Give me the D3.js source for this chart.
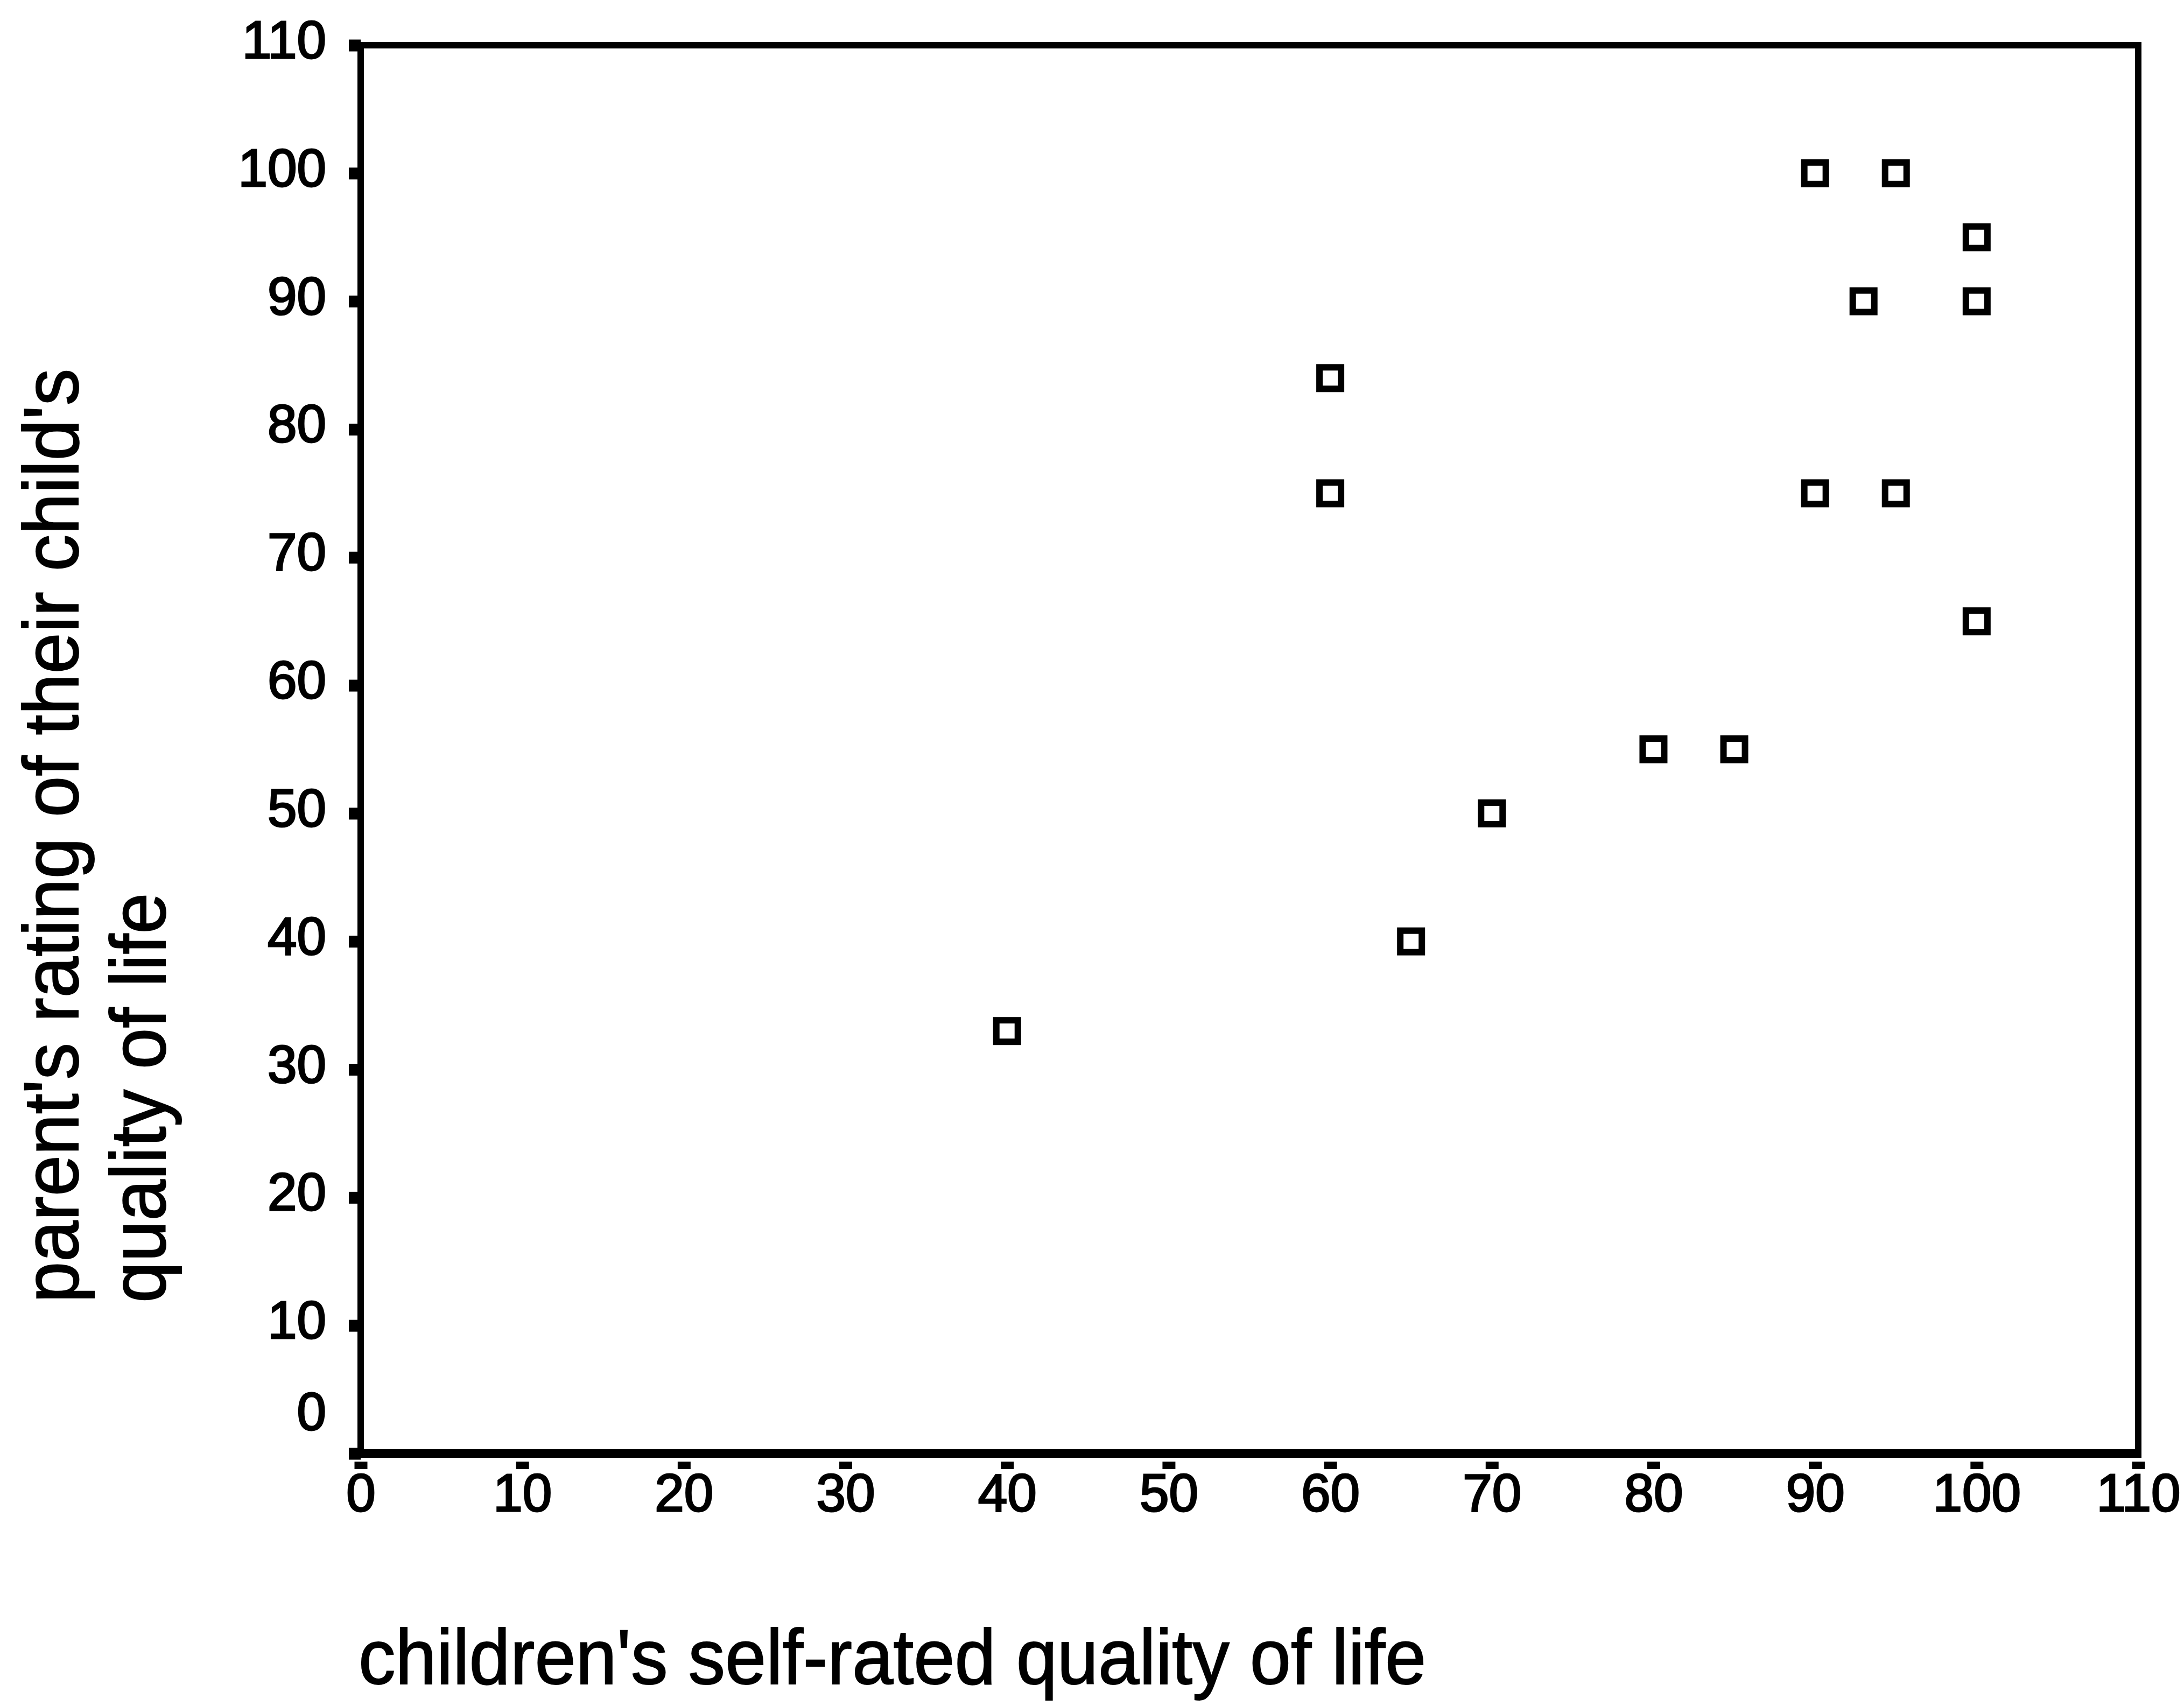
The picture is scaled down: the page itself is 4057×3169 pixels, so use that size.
<!DOCTYPE html>
<html>
<head>
<meta charset="utf-8">
<script src="https://cdn.jsdelivr.net/npm/d3@7"></script>
<style>
  body { margin: 0; background: #fff; }
  text { font-family: "Liberation Sans", Arial, sans-serif; fill: #000; }
</style>
</head>
<body>
<script>
// children's self-rated QoL (x) vs parent's rating (y)
var childScore  = [40, 60, 60, 65, 70, 80, 85, 90, 95, 100, 93, 100, 90, 95, 100];
var parentScore = [33, 84, 75, 40, 50, 55, 55, 100, 100, 95, 90, 90, 75, 75, 65];
var xTicks = [0, 10, 20, 30, 40, 50, 60, 70, 80, 90, 100, 110];
var yTicks = [0, 10, 20, 30, 40, 50, 60, 70, 80, 90, 100, 110];

var width = 4057, height = 3169;
var plot = {left: 670, right: 3972, top: 84, bottom: 2700};

var svg = d3.select("body").append("svg")
    .attr("width", width)
    .attr("height", height);

var x = d3.scaleLinear().domain([0, 110]).range([plot.left, plot.right]);
var y = d3.scaleLinear().domain([0, 110]).range([plot.bottom, plot.top]);

// frame
svg.append("rect")
    .attr("x", x(0)).attr("y", y(110))
    .attr("width", x(110) - x(0))
    .attr("height", y(0) - y(110))
    .attr("fill", "none")
    .attr("stroke", "#000")
    .attr("stroke-width", 12);

svg.append("line")
    .attr("x1", x(0) - 6).attr("x2", x(110) + 6)
    .attr("y1", y(0)).attr("y2", y(0))
    .attr("stroke", "#000")
    .attr("stroke-width", 16);

// y axis
var gy = svg.append("g")
    .attr("transform", "translate(" + x(0) + ",0)")
    .call(d3.axisLeft(y).tickValues(yTicks).tickSize(22).tickPadding(42));
gy.select(".domain").remove();
gy.selectAll(".tick line").attr("stroke-width", 22).attr("x2", -22);
gy.selectAll(".tick text")
    .style("font-size", "98px")
    .style("font-family", "Liberation Sans, Arial, sans-serif")
    .attr("stroke", "#000").attr("stroke-width", 3)
    .attr("dy", function(d) { return d === 0 ? "-0.45em" : "0.24em"; });

// x axis
var gx = svg.append("g")
    .attr("transform", "translate(0," + y(0) + ")")
    .call(d3.axisBottom(x).tickValues(xTicks).tickSize(29).tickPadding(0));
gx.select(".domain").remove();
gx.selectAll(".tick line").attr("y1", 15).attr("stroke-width", 24);
gx.selectAll(".tick text")
    .style("font-size", "98px")
    .style("font-family", "Liberation Sans, Arial, sans-serif")
    .attr("stroke", "#000").attr("stroke-width", 3)
    .attr("y", 72)
    .attr("dy", "0.36em");

// points: open squares
var s = 40;
svg.append("g").selectAll("rect")
    .data(childScore.map(function(d, i) { return [d, parentScore[i]]; }))
    .enter().append("rect")
    .attr("x", function(d) { return x(d[0]) - s / 2; })
    .attr("y", function(d) { return y(d[1]) - s / 2; })
    .attr("width", s)
    .attr("height", s)
    .attr("fill", "none")
    .attr("stroke", "#000")
    .attr("stroke-width", 12);

// axis titles
svg.append("text")
    .attr("transform", "translate(145,2420) rotate(-90) scale(0.945,1)")
    .attr("stroke", "#000").attr("stroke-width", 2)
    .style("font-size", "145px")
    .text("parent's rating of their child's");

svg.append("text")
    .attr("transform", "translate(307,2420) rotate(-90) scale(0.945,1)")
    .attr("stroke", "#000").attr("stroke-width", 2)
    .style("font-size", "145px")
    .text("quality of life");

svg.append("text")
    .attr("transform", "translate(666,3128) scale(0.945,1)")
    .attr("stroke", "#000").attr("stroke-width", 2)
    .style("font-size", "145px")
    .text("children's self-rated quality of life");
</script>
</body>
</html>
